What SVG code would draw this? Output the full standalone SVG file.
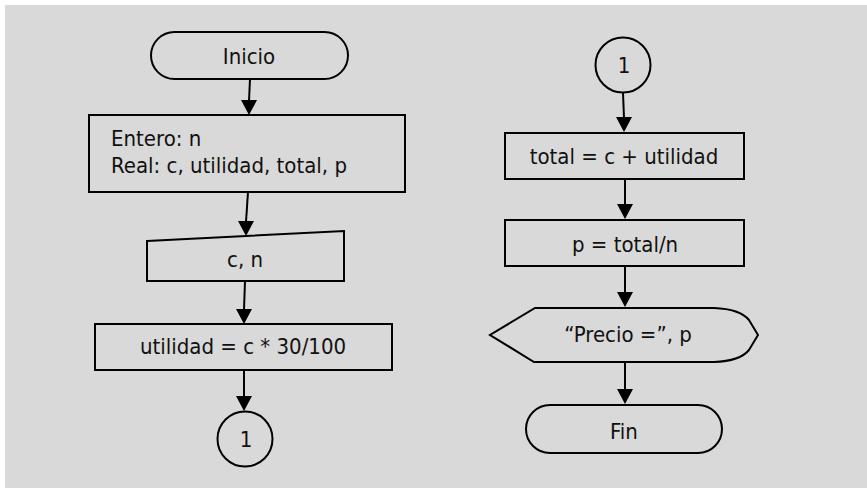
<svg xmlns="http://www.w3.org/2000/svg" width="867" height="488" viewBox="0 0 867 488">
  <style>
    .shape { fill: none; stroke: #000; stroke-width: 2; }
    .edge { fill: none; stroke: #000; stroke-width: 2; }
    .head { fill: #000; }
    text { font-family: "DejaVu Sans Condensed", "DejaVu Sans", "Liberation Sans", sans-serif; font-stretch: condensed; font-size: 22px; fill: #111; }
    .c { text-anchor: middle; }
  </style>
  <rect x="0" y="0" width="867" height="488" fill="#ffffff"/>
  <rect x="5" y="5" width="862" height="483" fill="#d9d9d9"/>

  <!-- connectors: shaft plus filled triangular head -->
  <g id="connectors">
    <path class="edge" d="M250,79 L249,101"/>
    <polygon class="head" points="241,100 257,100 249,115"/>
    <path class="edge" d="M248,192 L246,222"/>
    <polygon class="head" points="238,221 254,221 246,236"/>
    <path class="edge" d="M245,281 L244,310"/>
    <polygon class="head" points="236,309 252,309 244,324"/>
    <path class="edge" d="M244,370 L244,397"/>
    <polygon class="head" points="236,396 252,396 244,411"/>
    <path class="edge" d="M623,93 L624,118"/>
    <polygon class="head" points="616,117 632,117 624,132"/>
    <path class="edge" d="M625,179 L625,205"/>
    <polygon class="head" points="617,204 633,204 625,219"/>
    <path class="edge" d="M625,266 L625,293"/>
    <polygon class="head" points="617,292 633,292 625,307"/>
    <path class="edge" d="M625,362 L625,390"/>
    <polygon class="head" points="617,389 633,389 625,404"/>
  </g>

  <g id="inicio">
    <rect class="shape" x="151" y="32" width="197" height="47" rx="23.5" ry="23.5"/>
    <text class="c" x="249" y="64">Inicio</text>
  </g>

  <g id="declaraciones">
    <rect class="shape" x="89" y="115" width="316" height="77"/>
    <text x="111" y="146">Entero: n</text>
    <text x="111" y="173">Real: c, utilidad, total, p</text>
  </g>

  <g id="lectura">
    <polygon class="shape" points="147,241 344,231 344,281 147,281"/>
    <text class="c" x="245" y="267">c, n</text>
  </g>

  <g id="calculo-utilidad">
    <rect class="shape" x="95" y="324" width="297" height="46"/>
    <text class="c" x="243" y="354">utilidad = c * 30/100</text>
  </g>

  <g id="conector-salida">
    <circle class="shape" cx="245" cy="439" r="27.5"/>
    <text class="c" x="246" y="447">1</text>
  </g>

  <g id="conector-entrada">
    <circle class="shape" cx="623" cy="65" r="27.5"/>
    <text class="c" x="624" y="73">1</text>
  </g>

  <g id="calculo-total">
    <rect class="shape" x="505" y="133" width="239" height="46"/>
    <text class="c" x="624" y="164">total = c + utilidad</text>
  </g>

  <g id="calculo-precio">
    <rect class="shape" x="505" y="220" width="239" height="46"/>
    <text class="c" x="625" y="252">p = total/n</text>
  </g>

  <g id="salida">
    <path class="shape" d="M535,308 H714 Q740,309 749,320 L758,335 L749,350 Q740,361 714,362 H534 L490,335 Z"/>
    <text class="c" x="628" y="342">“Precio =”, p</text>
  </g>

  <g id="fin">
    <rect class="shape" x="526" y="405" width="196" height="48" rx="24" ry="24"/>
    <text class="c" x="624" y="439">Fin</text>
  </g>
</svg>
